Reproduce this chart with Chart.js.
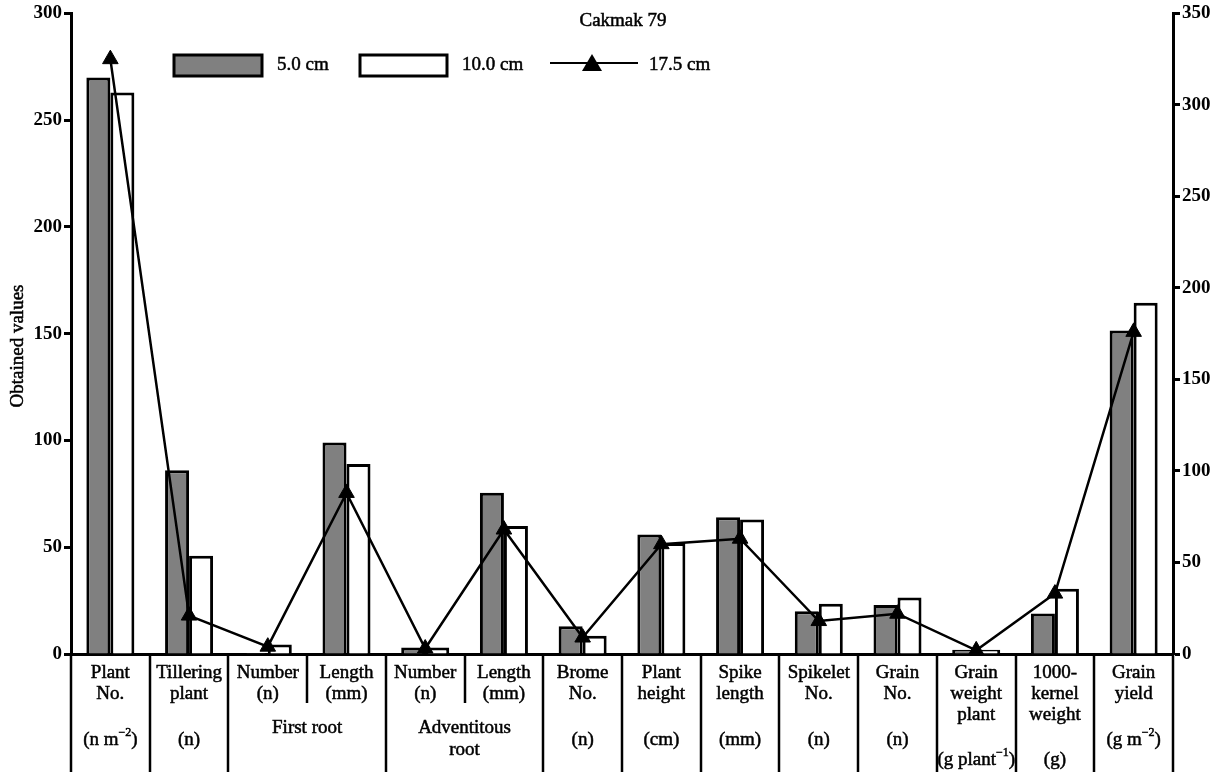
<!DOCTYPE html>
<html lang="en">
<head>
  <meta charset="UTF-8" />
  <title>Cakmak 79</title>
  <script src="https://cdn.jsdelivr.net/npm/chart.js@4.4.0"></script>
  <style>
    body { margin: 0; background: #fff; }
    .chart-container { width: 1228px; height: 775px; }
  </style>
</head>
<body>
  <div class="chart-container">
    <canvas id="chart"></canvas>
  </div>

  <script>
    const categories = ['Plant No.', 'Tillering plant', 'First root number', 'First root length',
      'Adventitous root number', 'Adventitous root length', 'Brome No.', 'Plant height',
      'Spike length', 'Spikelet No.', 'Grain No.', 'Grain weight plant', '1000-kernel weight', 'Grain yield'];
    const depth5 = [270, 86, 0.5, 99, 3, 75.5, 13, 56, 64, 20, 23, 2, 19, 151.5];
    const depth10 = [263, 46, 4.5, 89, 3, 60, 8.5, 52, 63, 23.5, 26.5, 2, 30.5, 164.5];
    const depth175 = [325, 21, 4, 88, 3, 68, 9, 60, 63, 18, 22, 2, 33, 176];

    const leftTicks = [0, 50, 100, 150, 200, 250, 300];
    const rightTicks = [0, 50, 100, 150, 200, 250, 300, 350];

    // label table under the x axis
    const nameLines = [['Plant', 'No.'], ['Tillering', 'plant'], ['Number', '(n)'], ['Length', '(mm)'],
      ['Number', '(n)'], ['Length', '(mm)'], ['Brome', 'No.'], ['Plant', 'height'], ['Spike', 'length'],
      ['Spikelet', 'No.'], ['Grain', 'No.'], ['Grain', 'weight', 'plant'], ['1000-', 'kernel', 'weight'], ['Grain', 'yield']];
    const unitLabels = ['(n m^{−2})', '(n)', '', '', '', '', '(n)', '(cm)', '(mm)', '(n)', '(n)', '(g plant^{−1})', '(g)', '(g m^{−2})'];
    const groupLabels = [{ from: 2, to: 3, lines: ['First root'] }, { from: 4, to: 5, lines: ['Adventitous', 'root'] }];

    const FONT = '"Liberation Serif", "Times New Roman", serif';

    // text with a thin outline, to get the heavy look of the printed figure
    function heavyText(ctx, t, x, y) {
      ctx.fillText(t, x, y);
      ctx.strokeText(t, x, y);
    }

    function drawRich(ctx, str, cx, cy) {
      const parts = str.split(/\^\{(.*?)\}/);
      const big = '19px ' + FONT, small = '12px ' + FONT;
      let total = 0;
      parts.forEach((p, i) => { ctx.font = i % 2 ? small : big; total += ctx.measureText(p).width; });
      let x = cx - total / 2;
      ctx.textAlign = 'left';
      parts.forEach((p, i) => {
        ctx.font = i % 2 ? small : big;
        heavyText(ctx, p, x, i % 2 ? cy - 7 : cy);
        x += ctx.measureText(p).width;
      });
    }

    const decorPlugin = {
      id: 'decor',
      afterDraw(chart) {
        const ctx = chart.ctx;
        const xs = chart.scales.x;
        const area = chart.chartArea;
        ctx.save();
        ctx.fillStyle = '#000';
        ctx.strokeStyle = '#000';
        ctx.textBaseline = 'middle';

        // title
        ctx.font = '19px ' + FONT;
        ctx.textAlign = 'center';
        ctx.lineWidth = 0.5;
        heavyText(ctx, 'Cakmak 79', 623, 21);

        // legend
        ctx.textAlign = 'left';
        heavyText(ctx, '5.0 cm', 277, 65);
        heavyText(ctx, '10.0 cm', 462, 65);
        heavyText(ctx, '17.5 cm', 649, 65);
        ctx.lineWidth = 3;
        ctx.fillStyle = '#808080';
        ctx.fillRect(174, 55, 88, 21);
        ctx.strokeRect(174, 55, 88, 21);
        ctx.fillStyle = '#fff';
        ctx.fillRect(360, 55, 87, 21);
        ctx.strokeRect(360, 55, 87, 21);
        ctx.fillStyle = '#000';
        ctx.lineWidth = 2;
        ctx.beginPath();
        ctx.moveTo(550, 63);
        ctx.lineTo(638, 63);
        ctx.stroke();
        ctx.beginPath();
        ctx.moveTo(592, 54);
        ctx.lineTo(602, 71);
        ctx.lineTo(582, 71);
        ctx.closePath();
        ctx.fill();

        // y axis title
        ctx.save();
        ctx.lineWidth = 0.5;
        ctx.translate(18, 346);
        ctx.rotate(-Math.PI / 2);
        ctx.textAlign = 'center';
        heavyText(ctx, 'Obtained values', 0, 0);
        ctx.restore();

        // separators of the label table
        const shortAfter = [2, 4];
        ctx.lineWidth = 2.5;
        const edges = [area.left];
        for (let i = 0; i < categories.length - 1; i++) {
          edges.push((xs.getPixelForValue(i) + xs.getPixelForValue(i + 1)) / 2);
        }
        edges.push(area.right);
        edges.forEach((x, k) => {
          const bottom = shortAfter.includes(k - 1) ? 703 : 772;
          ctx.beginPath();
          ctx.moveTo(Math.round(x), area.bottom);
          ctx.lineTo(Math.round(x), bottom);
          ctx.stroke();
        });

        // category names
        ctx.lineWidth = 0.5;
        ctx.font = '19px ' + FONT;
        ctx.textAlign = 'center';
        nameLines.forEach((lines, i) => {
          const cx = xs.getPixelForValue(i);
          lines.forEach((t, j) => heavyText(ctx, t, cx, 673 + j * 21));
        });
        unitLabels.forEach((u, i) => {
          if (!u) return;
          const cx = xs.getPixelForValue(i);
          const y = nameLines[i].length > 2 ? 760 : 740;
          drawRich(ctx, u, cx, y);
        });
        ctx.font = '19px ' + FONT;
        ctx.textAlign = 'center';
        groupLabels.forEach(g => {
          const cx = (xs.getPixelForValue(g.from) + xs.getPixelForValue(g.to)) / 2;
          g.lines.forEach((t, j) => heavyText(ctx, t, cx, 728 + j * 22));
        });
        ctx.restore();
      }
    };

    document.addEventListener('DOMContentLoaded', function () {
      const tickFont = { family: FONT, size: 19, weight: 'bold' };
      new Chart(document.getElementById('chart').getContext('2d'), {
        type: 'bar',
        data: {
          labels: categories,
          datasets: [
            {
              type: 'line', label: '17.5 cm', data: depth175, yAxisID: 'y1', order: 0,
              borderColor: '#000', borderWidth: 2.5, backgroundColor: '#000',
              pointStyle: 'triangle', pointRadius: 9, pointBorderWidth: 1, tension: 0
            },
            {
              label: '5.0 cm', data: depth5, yAxisID: 'y', order: 1,
              backgroundColor: '#808080', borderColor: '#000', borderWidth: 3,
              categoryPercentage: 0.61, barPercentage: 1
            },
            {
              label: '10.0 cm', data: depth10, yAxisID: 'y', order: 1,
              backgroundColor: '#fff', borderColor: '#000', borderWidth: 3,
              categoryPercentage: 0.61, barPercentage: 1
            }
          ]
        },
        options: {
          responsive: true,
          maintainAspectRatio: false,
          animation: false,
          layout: { padding: { top: 13, left: 0, right: 0, bottom: 0 } },
          plugins: { legend: { display: false }, tooltip: { enabled: false } },
          scales: {
            x: {
              offset: true,
              ticks: { display: false },
              grid: { display: false },
              border: { display: true, color: '#000', width: 3 },
              afterFit(scale) { scale.height = 121; }
            },
            y: {
              position: 'left', min: 0, max: 300,
              afterBuildTicks(scale) { scale.ticks = leftTicks.map(v => ({ value: v })); },
              ticks: { color: '#000', font: tickFont, padding: 2 },
              grid: { drawOnChartArea: false, tickLength: 7, tickWidth: 3, tickColor: '#000' },
              border: { display: true, color: '#000', width: 3 },
              afterFit(scale) { scale.width = 71; }
            },
            y1: {
              position: 'right', min: 0, max: 350,
              afterBuildTicks(scale) { scale.ticks = rightTicks.map(v => ({ value: v })); },
              ticks: { color: '#000', font: tickFont, padding: 2 },
              grid: { drawOnChartArea: false, tickLength: 7, tickWidth: 3, tickColor: '#000' },
              border: { display: true, color: '#000', width: 3 },
              afterFit(scale) { scale.width = 55; }
            }
          }
        },
        plugins: [decorPlugin]
      });
    });
  </script>
</body>
</html>
